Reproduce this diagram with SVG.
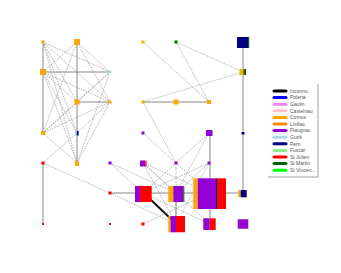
<svg xmlns="http://www.w3.org/2000/svg" width="341" height="273" viewBox="0 0 341 273">
<style>
.s{stroke:#888;stroke-width:1;fill:none}
.d{stroke:#8a8a8a;stroke-width:0.6;stroke-dasharray:1.6,1;fill:none}
.k{stroke:#111;stroke-width:2;fill:none}
.lg{stroke-width:3;stroke-linecap:round}
.lt{font-family:"Liberation Sans",Arial,sans-serif;font-size:5px;fill:#555}
.o{fill:#ffa500}.p{fill:#9400d3}.r{fill:#ff0000}.n{fill:#000080}.g{fill:#006400}.lb{fill:#add8e6}
</style>
<rect width="341" height="273" fill="#fff"/>
<g id="edges">
<path class="s" d="M43 42V133M77 42V163M43 163V224M43 72H110M77 102H110M143 102H209M243 42V193M110 193H243M176 193V224M210 133V224"/>
<path class="k" d="M150 199L171 219"/>
<path class="d" d="M43 42L110 72M43 42L77 102M43 42L110 102M43 42L77 133M43 42L77 163M77 42L43 72M77 42L110 72M77 42L43 133M77 42L110 102M43 72L77 102M43 72L110 102M43 72L77 133M43 72L77 163M110 72L77 102M110 72L43 133M110 72L77 163M77 102L43 133M110 102L43 133M110 102L77 133M110 102L77 163M43 133L77 163M43 163L77 133M43 163L110 193"/>
<path class="d" d="M143 42L209 102M176 42L209 102M176 42L243 72M243 72L143 102M143 102L176 163M143 133L176 163M209 133L176 163M209 133L176 193"/>
<path class="d" d="M110 163L143 193M110 163L176 193M143 163L176 193M143 163L210 193M143 163L176 224M143 163L210 224M176 163L143 193M176 163L210 193M176 163L176 224M209 163L143 193M209 163L176 193M209 163L176 224M110 193L176 224M143 224L210 193M143 193L210 224"/>
</g>
<g id="n_a"><rect class="o" x="41.5" y="40.5" width="3" height="3"/></g>
<g id="n_b"><rect class="o" x="74" y="39" width="6" height="6"/></g>
<g id="n_p"><rect class="o" x="141.5" y="40.5" width="3" height="3"/></g>
<g id="n_q"><rect class="g" x="174.5" y="40.5" width="3" height="3"/></g>
<g id="n_big_top"><rect class="n" x="237" y="37" width="11" height="11"/><rect class="g" x="248" y="37" width="1.2" height="11"/></g>
<g id="n_c"><rect class="o" x="40" y="69" width="6" height="6"/></g>
<g id="n_d"><rect class="lb" x="108.5" y="70.5" width="3" height="3"/></g>
<g id="n_s"><rect class="o" x="239.5" y="69" width="4" height="6"/><rect class="g" x="243.5" y="69" width="2.5" height="6"/></g>
<g id="n_e"><rect class="o" x="74.5" y="99.5" width="5" height="5"/></g>
<g id="n_f"><rect class="o" x="108.5" y="100.5" width="3" height="3"/></g>
<g id="n_t"><rect class="o" x="141.5" y="100.5" width="3" height="3"/></g>
<g id="n_m"><rect class="o" x="173.5" y="99.5" width="5" height="5"/></g>
<g id="n_u"><rect class="o" x="207" y="100" width="4" height="4"/></g>
<g id="n_g"><rect class="o" x="41" y="131" width="4" height="4"/></g>
<g id="n_h"><rect class="lb" x="75" y="131" width="1.8" height="4.5"/><rect class="n" x="76.8" y="131" width="1.8" height="4.5"/></g>
<g id="n_v"><rect class="p" x="141.5" y="131.5" width="3" height="3"/></g>
<g id="n_w"><rect class="p" x="206" y="130" width="6.5" height="6"/></g>
<g id="n_x"><rect class="n" x="241.5" y="132" width="3" height="2.5"/></g>
<g id="n_j"><rect class="r" x="41.5" y="161.5" width="3" height="3"/></g>
<g id="n_i"><rect class="o" x="75" y="161" width="4" height="5"/></g>
<g id="n_k"><rect class="p" x="108.5" y="161.5" width="3" height="3"/></g>
<g id="n_x1"><rect class="p" x="140" y="160.5" width="5.5" height="6"/><rect class="r" x="145.5" y="160.5" width="1" height="6"/></g>
<g id="n_x2"><rect class="p" x="174.5" y="161.5" width="3" height="3"/></g>
<g id="n_x3"><rect class="p" x="207.5" y="161.5" width="3" height="3"/></g>
<g id="n_r1"><rect class="r" x="108.5" y="191.5" width="3" height="3"/></g>
<g id="n_m1"><rect class="p" x="135" y="186" width="5" height="16"/><rect class="r" x="140" y="186" width="11.7" height="16"/></g>
<g id="n_m2"><rect class="o" x="168.3" y="186" width="5" height="16"/><rect class="p" x="173.3" y="186" width="10" height="16"/><rect class="g" x="183.3" y="186" width="1" height="16"/></g>
<g id="n_m3"><rect fill="#ffc0cb" x="192.8" y="178.3" width="0.6" height="30.7"/><rect class="o" x="193.3" y="178.3" width="4.4" height="30.7"/><rect class="p" x="197.7" y="178.3" width="18.3" height="30.7"/><rect class="n" x="216" y="178.3" width="1" height="30.7"/><rect class="r" x="217" y="178.3" width="9" height="30.7"/></g>
<g id="n_y"><rect class="o" x="238.3" y="190" width="2.4" height="7.3"/><rect class="n" x="240.7" y="190" width="6" height="7.3"/></g>
<g id="n_z1"><rect class="r" x="42" y="223" width="2" height="2"/></g>
<g id="n_z2"><rect class="r" x="109" y="223" width="2" height="2"/></g>
<g id="n_r2"><rect class="r" x="141.5" y="222.5" width="3" height="3"/></g>
<g id="n_l1"><rect class="o" x="168.3" y="216" width="2.2" height="16.3"/><rect class="p" x="170.5" y="216" width="5.5" height="16.3"/><rect class="r" x="176" y="216" width="9" height="16.3"/></g>
<g id="n_l2"><rect class="p" x="203.3" y="218.3" width="6.4" height="11.7"/><rect class="r" x="209.7" y="218.3" width="6" height="11.7"/></g>
<g id="n_l3"><rect class="p" x="237.7" y="219.3" width="10.6" height="9.4"/></g>
<g id="legend">
<path d="M318 84V177H268" stroke="#888" stroke-width="0.8" fill="none"/>
<g class="lg">
<line x1="274" y1="91" x2="286" y2="91" stroke="#000"/>
<line x1="274" y1="97.6" x2="286" y2="97.6" stroke="#0000ff"/>
<line x1="274" y1="104.2" x2="286" y2="104.2" stroke="#ee82ee"/>
<line x1="274" y1="110.8" x2="286" y2="110.8" stroke="#ffc0cb"/>
<line x1="274" y1="117.4" x2="286" y2="117.4" stroke="#ffa500"/>
<line x1="274" y1="124" x2="286" y2="124" stroke="#ff8c00"/>
<line x1="274" y1="130.6" x2="286" y2="130.6" stroke="#9400d3"/>
<line x1="274" y1="137.2" x2="286" y2="137.2" stroke="#add8e6"/>
<line x1="274" y1="143.8" x2="286" y2="143.8" stroke="#000080"/>
<line x1="274" y1="150.4" x2="286" y2="150.4" stroke="#90ee90"/>
<line x1="274" y1="157" x2="286" y2="157" stroke="#ff0000"/>
<line x1="274" y1="163.6" x2="286" y2="163.6" stroke="#006400"/>
<line x1="274" y1="170.2" x2="286" y2="170.2" stroke="#00ff00"/>
</g>
<g class="lt">
<text x="290" y="92.7">Inconnu</text>
<text x="290" y="99.3">Poleria</text>
<text x="290" y="105.9">Gaulin</text>
<text x="290" y="112.5">Castelnau</text>
<text x="290" y="119.1">Cornus</text>
<text x="290" y="125.7">Livillac</text>
<text x="290" y="132.3">Flaugnac</text>
<text x="290" y="138.9">Guirk</text>
<text x="290" y="145.5">Pern</text>
<text x="290" y="152.1">Fuscar</text>
<text x="290" y="158.7">St Julien</text>
<text x="290" y="165.3">St Martin</text>
<text x="290" y="171.9">St Vincen...</text>
</g>
</g>
</svg>
